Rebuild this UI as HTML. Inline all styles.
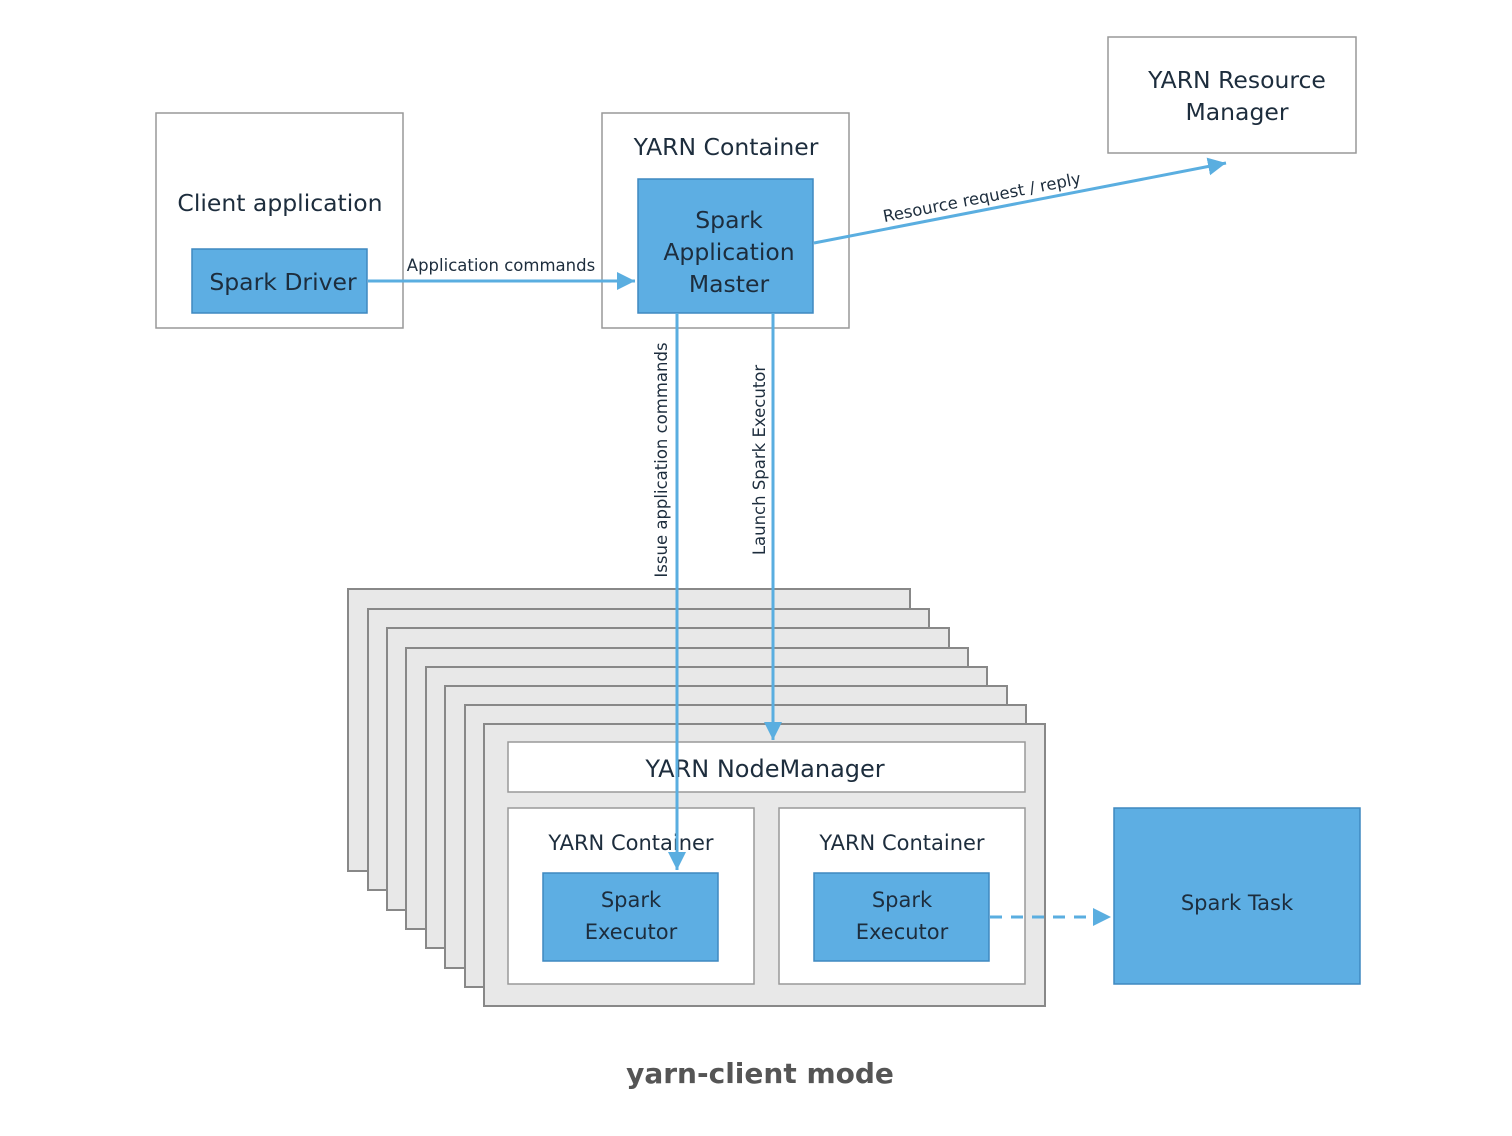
<!DOCTYPE html>
<html><head><meta charset="utf-8"><style>
html,body{margin:0;padding:0;background:#fff}
svg{display:block}
text{font-family:"DejaVu Sans","Liberation Sans",sans-serif}
</style></head><body>
<svg width="1512" height="1136" viewBox="0 0 1512 1136" xmlns="http://www.w3.org/2000/svg">
<defs>
<marker id="b" markerWidth="20" markerHeight="20" refX="18" refY="10" orient="auto" markerUnits="userSpaceOnUse">
<path d="M0,1 L18,10 L0,19 z" fill="#5aaee0"/></marker>
</defs>
<g fill="#fff" stroke="#999" stroke-width="1.5">
<rect x="156" y="113" width="247" height="215"/>
<rect x="602" y="113" width="247" height="215"/>
<rect x="1108" y="37" width="248" height="116"/>
</g>
<g fill="#5daee3" stroke="#3f88c0" stroke-width="1.5">
<rect x="192" y="249" width="175" height="64"/>
<rect x="638" y="179" width="175" height="134"/>
</g>
<g fill="#1d2d3d" font-size="23.5" text-anchor="middle">
<text x="280" y="211">Client application</text>
<text x="283" y="290">Spark Driver</text>
<text x="726" y="155">YARN Container</text>
<text x="729" y="228">Spark</text>
<text x="729" y="260">Application</text>
<text x="729" y="292">Master</text>
<text x="1237" y="88">YARN Resource</text>
<text x="1237" y="120">Manager</text>
</g>
<g fill="#e8e8e8" stroke="#888" stroke-width="2">
<rect x="348" y="589" width="562" height="282"/>
<rect x="368" y="609" width="561" height="281"/>
<rect x="387" y="628" width="562" height="282"/>
<rect x="406" y="648" width="562" height="281"/>
<rect x="426" y="667" width="561" height="281"/>
<rect x="445" y="686" width="562" height="282"/>
<rect x="465" y="705" width="561" height="282"/>
<rect x="484" y="724" width="561" height="282"/>
</g>
<g fill="#fff" stroke="#999" stroke-width="1.5">
<rect x="508" y="742" width="517" height="50"/>
<rect x="508" y="808" width="246" height="176"/>
<rect x="779" y="808" width="246" height="176"/>
</g>
<g fill="#5daee3" stroke="#3f88c0" stroke-width="1.5">
<rect x="543" y="873" width="175" height="88"/>
<rect x="814" y="873" width="175" height="88"/>
<rect x="1114" y="808" width="246" height="176"/>
</g>
<g fill="#1d2d3d" font-size="21" text-anchor="middle">
<text x="765" y="777" font-size="24">YARN NodeManager</text>
<text x="631" y="850">YARN Container</text>
<text x="902" y="850">YARN Container</text>
<text x="631" y="907">Spark</text>
<text x="631" y="939">Executor</text>
<text x="902" y="907">Spark</text>
<text x="902" y="939">Executor</text>
<text x="1237" y="910">Spark Task</text>
</g>
<g stroke="#5aaee0" stroke-width="3" fill="none">
<line x1="368" y1="281" x2="635" y2="281" marker-end="url(#b)"/>
<line x1="814" y1="243" x2="1226" y2="163" marker-end="url(#b)"/>
<line x1="677" y1="313" x2="677" y2="870" marker-end="url(#b)"/>
<line x1="773" y1="313" x2="773" y2="740" marker-end="url(#b)"/>
<line x1="990" y1="917" x2="1111" y2="917" stroke-dasharray="12,9" marker-end="url(#b)"/>
</g>
<g fill="#1d2d3d" font-size="16.5">
<text x="501" y="271" text-anchor="middle">Application commands</text>
<text x="983" y="203" text-anchor="middle" transform="rotate(-11 983 203)">Resource request / reply</text>
<text x="0" y="0" text-anchor="middle" transform="translate(667 460) rotate(-90)">Issue application commands</text>
<text x="0" y="0" text-anchor="middle" transform="translate(765 460) rotate(-90)">Launch Spark Executor</text>
</g>
<text x="760" y="1083" text-anchor="middle" font-size="28" font-weight="bold" fill="#555">yarn-client mode</text>
</svg>
</body></html>
